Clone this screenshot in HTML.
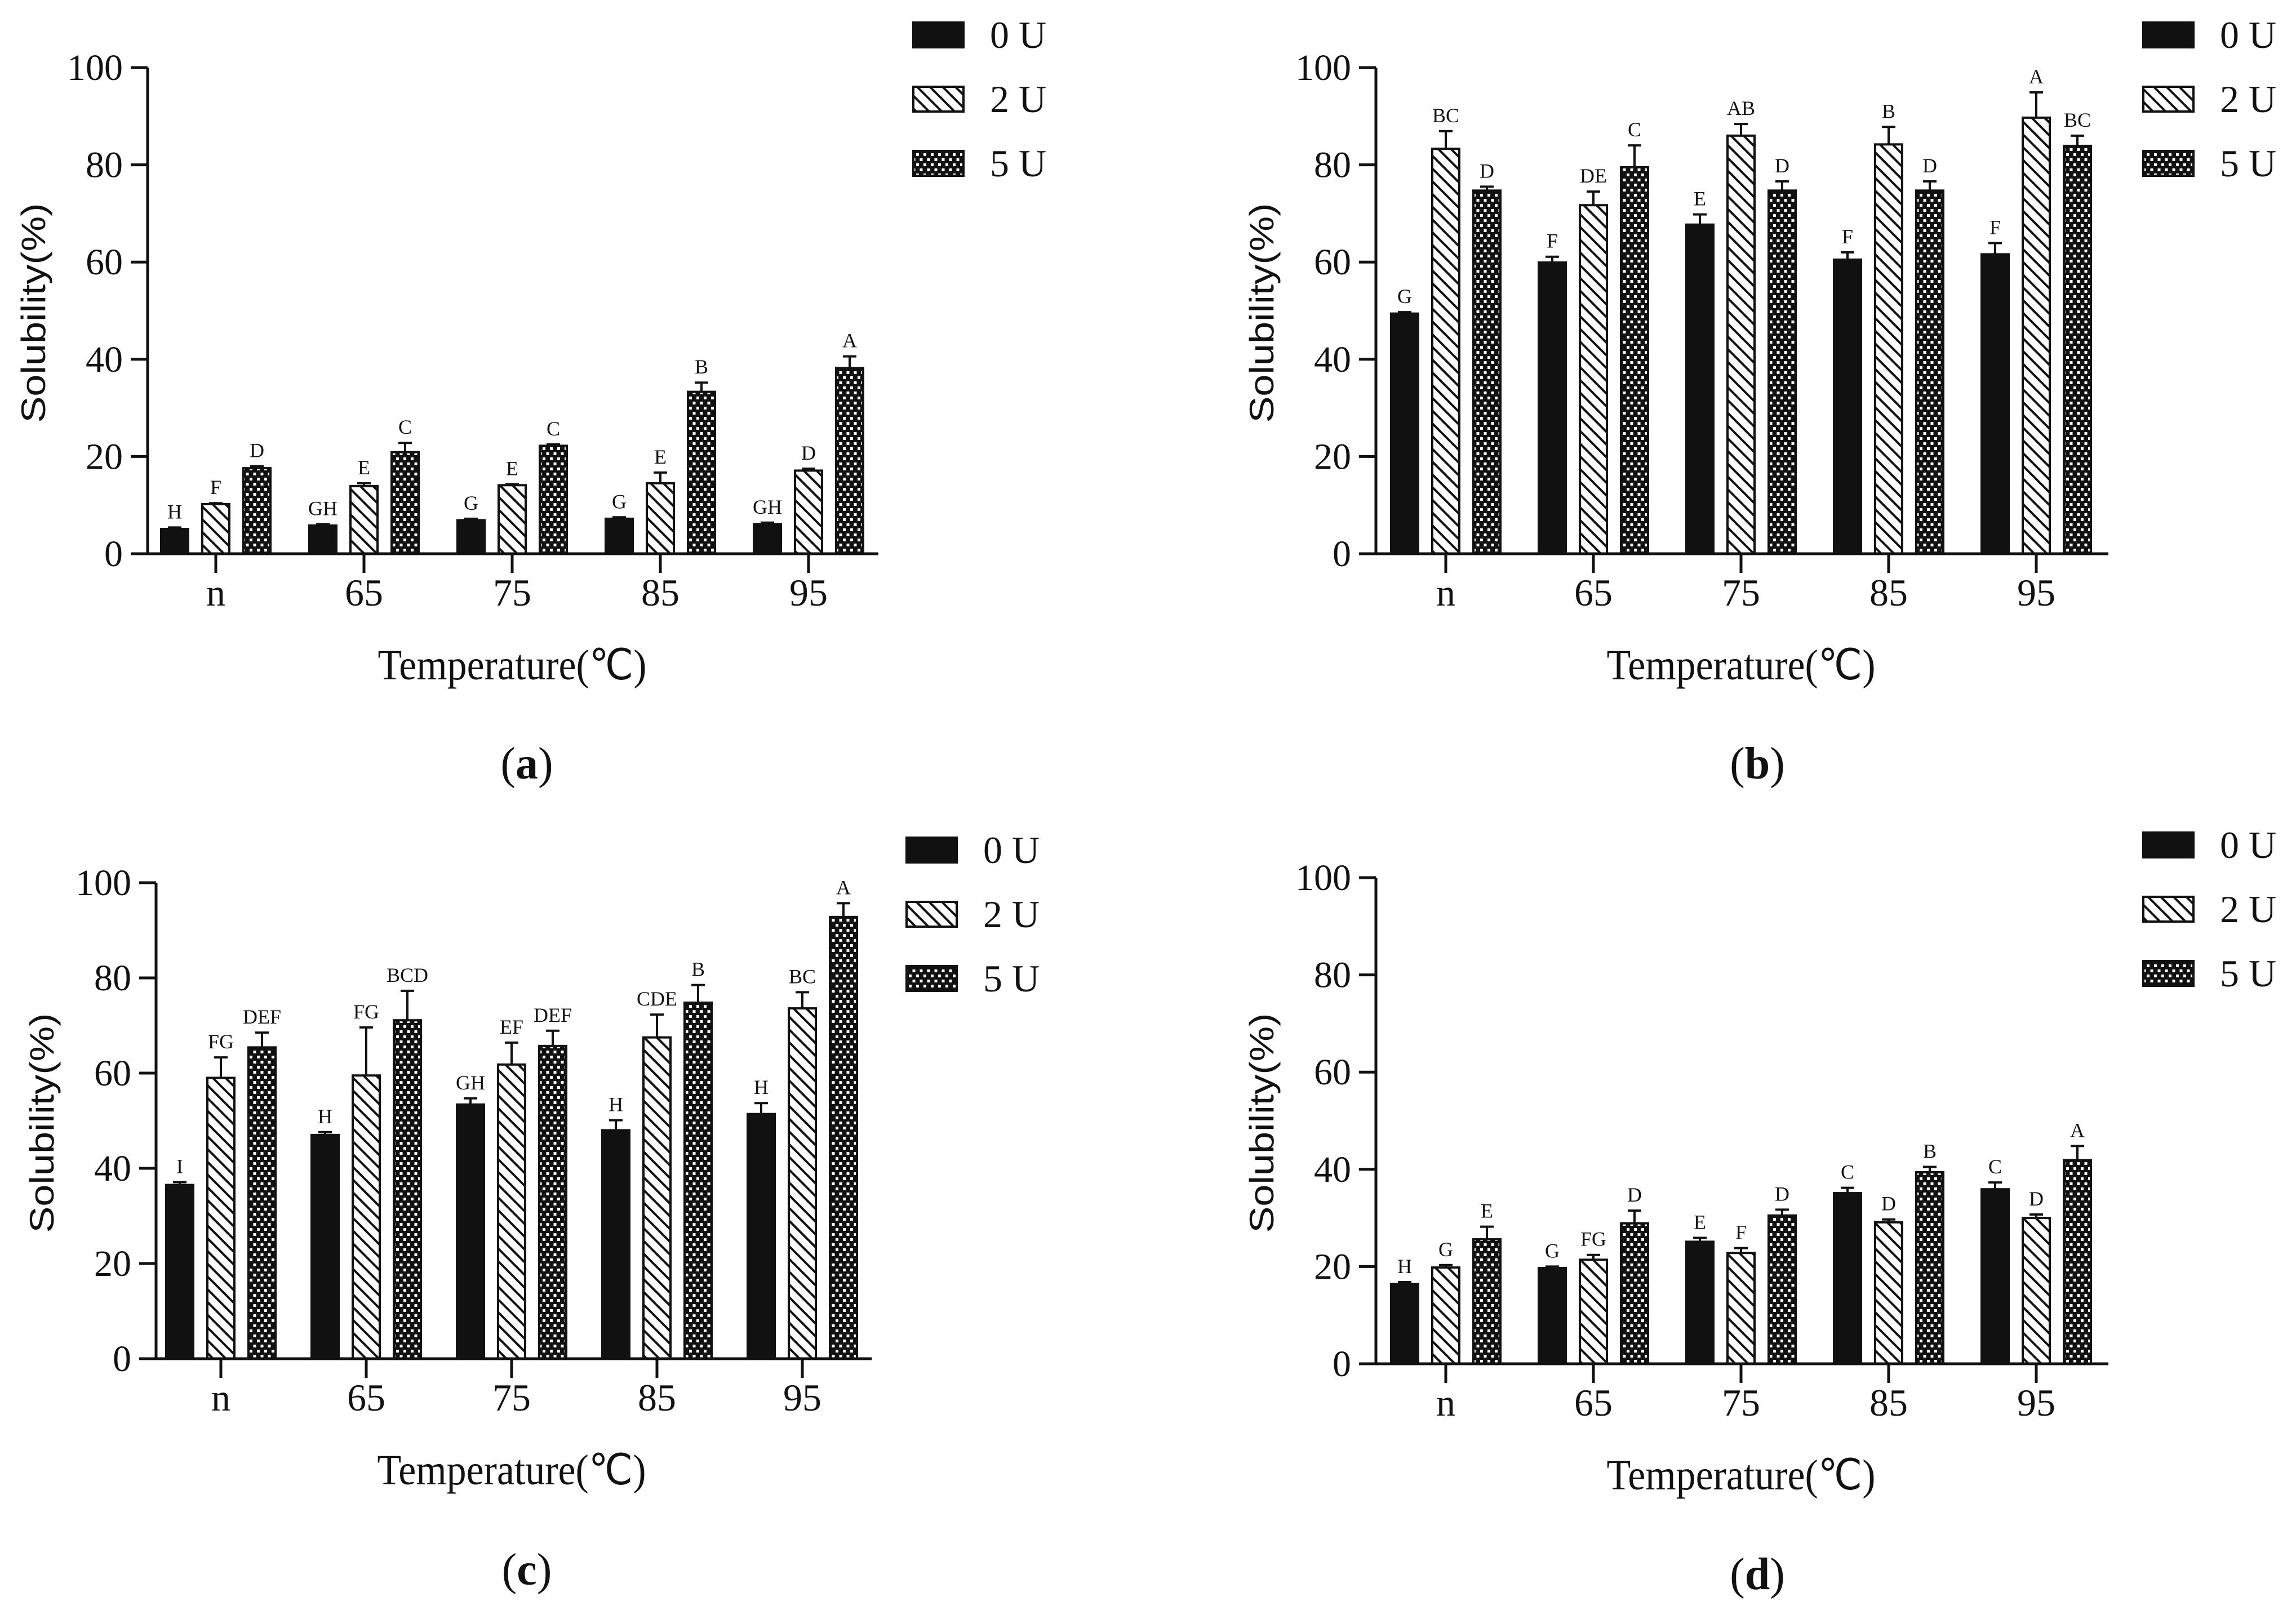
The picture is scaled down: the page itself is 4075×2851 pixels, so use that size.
<!DOCTYPE html>
<html><head><meta charset="utf-8"><style>
html,body{margin:0;padding:0;background:#fff}
svg{display:block}
text{font-family:"Liberation Serif",serif;fill:#111}
</style></head><body>
<svg id="fig" width="4075" height="2851" viewBox="0 0 4075 2851" xmlns="http://www.w3.org/2000/svg">
<defs>
<pattern id="hatch" patternUnits="userSpaceOnUse" width="16" height="16" patternTransform="rotate(-45)">
<rect width="16" height="16" fill="#fff"/><rect x="0" y="0" width="4" height="16" fill="#111"/>
</pattern>
<pattern id="checker" patternUnits="userSpaceOnUse" width="13" height="18">
<rect width="13" height="18" fill="#111"/><rect x="1" y="2" width="5" height="5" fill="#fff"/><rect x="7.5" y="11" width="5" height="5" fill="#fff"/>
</pattern>
</defs>
</svg>
<script>
const categories = ["n","65","75","85","95"];
const yTicks = [0,20,40,60,80,100];
const seriesNames = ["0 U","2 U","5 U"];
// panel a
const a0 = [5.1,5.8,6.9,7.2,6.1], a2 = [10.2,13.9,14.1,14.5,17.1], a5 = [17.6,20.9,22.2,33.3,38.2];
const a0e = [0.3,0.3,0.3,0.3,0.3], a2e = [0.2,0.6,0.2,2.2,0.4], a5e = [0.4,1.9,0.3,1.9,2.4];
const a0l = ["H","GH","G","G","GH"], a2l = ["F","E","E","E","D"], a5l = ["D","C","C","B","A"];
// panel b
const b0 = [49.4,59.9,67.7,60.5,61.6], b2 = [83.3,71.7,86,84.2,89.7], b5 = [74.7,79.5,74.7,74.7,83.9];
const b0e = [0.3,1.2,2.1,1.5,2.3], b2e = [3.6,2.8,2.4,3.6,5.2], b5e = [0.8,4.5,1.9,1.9,2.1];
const b0l = ["G","F","E","F","F"], b2l = ["BC","DE","AB","B","A"], b5l = ["D","C","D","D","BC"];
// panel c
const c0 = [36.5,47,53.4,48,51.4], c2 = [59,59.5,61.8,67.5,73.6], c5 = [65.4,71.1,65.7,74.8,92.8];
const c0e = [0.6,0.6,1.3,2.1,2.3], c2e = [4.3,10.1,4.6,4.8,3.4], c5e = [3.1,6.2,3.2,3.7,2.9];
const c0l = ["I","H","GH","H","H"], c2l = ["FG","FG","EF","CDE","BC"], c5l = ["DEF","BCD","DEF","B","A"];
// panel d
const d0 = [16.4,19.7,25.1,35.1,35.9], d2 = [19.8,21.4,22.8,29.1,30], d5 = [25.6,28.9,30.5,39.4,41.9];
const d0e = [0.4,0.3,0.8,1.1,1.4], d2e = [0.5,1,1,0.6,0.7], d5e = [2.6,2.6,1.2,1.1,2.9];
const d0l = ["H","G","E","C","C"], d2l = ["G","FG","F","D","D"], d5l = ["E","D","D","B","A"];

const NS = "http://www.w3.org/2000/svg";
const svg = document.getElementById("fig");
function mk(tag, attrs, parent){const e=document.createElementNS(NS,tag);for(const k in attrs)e.setAttribute(k,attrs[k]);(parent||svg).appendChild(e);return e;}

const panels = [
 {id:"a",x0:262,y100:120,y0:983,xEnd:1559,t0:383,dt:263,vals:[a0,a2,a5],errs:[a0e,a2e,a5e],lets:[a0l,a2l,a5l],lab:"a",lx:935,ly:1356},
 {id:"b",x0:2442,y100:120,y0:983,xEnd:3742,t0:2566,dt:262,vals:[b0,b2,b5],errs:[b0e,b2e,b5e],lets:[b0l,b2l,b5l],lab:"b",lx:3119,ly:1356},
 {id:"c",x0:277,y100:1567,y0:2412,xEnd:1547,t0:392,dt:258,vals:[c0,c2,c5],errs:[c0e,c2e,c5e],lets:[c0l,c2l,c5l],lab:"c",lx:935,ly:2787},
 {id:"d",x0:2442,y100:1558,y0:2421,xEnd:3742,t0:2566,dt:262,vals:[d0,d2,d5],errs:[d0e,d2e,d5e],lets:[d0l,d2l,d5l],lab:"d",lx:3119,ly:2795}
];
const fills = ["#111","url(#hatch)","url(#checker)"];
const seriesKeys = ["0u","2u","5u"];

panels.forEach(p=>{
  const g = mk("g",{});
  
  
  const yS = v => p.y0 - (v/100)*(p.y0-p.y100);
  const xS = i => p.t0 + i*p.dt;
  const bw = 48, off = 73;
  p.vals.forEach((arr,s)=>{
    arr.forEach((v,i)=>{
      const cx = xS(i) + (s-1)*off;
      const top = yS(v + p.errs[s][i]);
      const eb = mk("line",{x1:cx,x2:cx,y1:yS(v),y2:top,stroke:"#111","stroke-width":4},g);
      
      
      const cap = mk("line",{x1:cx-12,x2:cx+12,y1:top,y2:top,stroke:"#111","stroke-width":4},g);
      
      
      const r = mk("rect",{x:cx-bw/2,y:yS(v),width:bw,height:p.y0-yS(v),fill:fills[s],stroke:"#111","stroke-width":4},g);
      
      
      const t = mk("text",{x:cx,y:top-16,"text-anchor":"middle","font-size":36},g);
      t.textContent = p.lets[s][i];
      
      
    });
  });
  const ya = mk("line",{x1:p.x0,x2:p.x0,y1:p.y100,y2:p.y0,stroke:"#111","stroke-width":5},g);
  
  
  const xa = mk("line",{x1:p.x0-30,x2:p.xEnd,y1:p.y0,y2:p.y0,stroke:"#111","stroke-width":5},g);
  
  
  yTicks.forEach(v=>{
    const y = yS(v);
    mk("line",{x1:p.x0-30,x2:p.x0,y1:y,y2:y,stroke:"#111","stroke-width":5},g);
    const t = mk("text",{x:p.x0-44,y:y+22,"text-anchor":"end","font-size":66},g);
    t.textContent = v;
    
    
  });
  categories.forEach((c,i)=>{
    const x = xS(i);
    mk("line",{x1:x,x2:x,y1:p.y0,y2:p.y0+34,stroke:"#111","stroke-width":5},g);
    const t = mk("text",{x:x,y:p.y0+92,"text-anchor":"middle","font-size":68},g);
    t.textContent = c;
    
    
  });
  const yt = mk("text",{x:0,y:0,"text-anchor":"middle","font-size":60,textLength:390,lengthAdjust:"spacingAndGlyphs",transform:`translate(${p.x0-182},${(p.y0+p.y100)/2+4}) rotate(-90)`},g);
  yt.setAttribute("style","font-family:'Liberation Sans',sans-serif");
  yt.textContent = "Solubility(%)";
  
  
  const xt = mk("text",{x:xS(2),y:p.y0+223,"text-anchor":"middle","font-size":76,textLength:477,lengthAdjust:"spacingAndGlyphs"},g);
  xt.textContent = "Temperature(℃)";
  
  
  seriesNames.forEach((n,s)=>{
    const top = p.y100 - 80 + s*114;
    const r = mk("rect",{x:p.xEnd+62,y:top,width:89,height:44,fill:fills[s],stroke:"#111","stroke-width":4},g);
    
    
    const t = mk("text",{x:p.xEnd+198,y:top+45,"font-size":68},g);
    t.textContent = n;
    
    
  });
  const pl = mk("text",{x:p.lx,y:p.ly+26,"text-anchor":"middle","font-size":80},g);
  pl.innerHTML = '(<tspan font-weight="bold">'+p.lab+'</tspan>)';
  
  
});
</script>
</body></html>
